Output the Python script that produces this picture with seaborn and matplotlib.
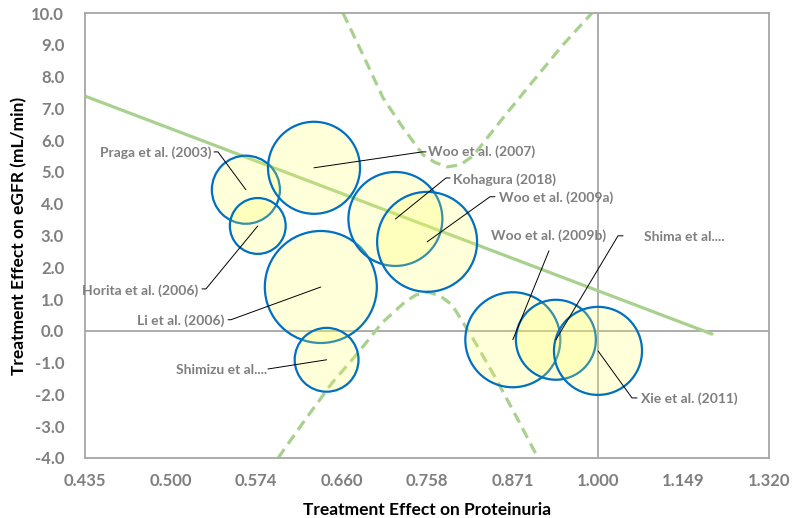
import numpy as np
import pandas as pd
import matplotlib
matplotlib.use("Agg")
import matplotlib.pyplot as plt
import seaborn as sns

# ---------------- data ----------------
studies = ["Praga et al. (2003)", "Horita et al. (2006)", "Woo et al. (2007)",
           "Li et al. (2006)", "Shimizu et al....", "Kohagura (2018)",
           "Woo et al. (2009a)", "Woo et al. (2009b)", "Shima et al....",
           "Xie et al. (2011)"]
proteinuria = [0.565, 0.576, 0.631, 0.638, 0.644, 0.720, 0.758, 0.871, 0.934, 1.000]
egfr = [4.44, 3.30, 5.13, 1.38, -0.91, 3.52, 2.80, -0.28, -0.28, -0.63]
weight = [11.6, 7.8, 21.2, 31.4, 10.2, 22.1, 25.0, 22.6, 16.0, 19.4]

reg_x = [0.435, 1.203]
reg_y = [7.39, -0.10]

upper_x = [0.6613, 0.6832, 0.7057, 0.7289, 0.7529, 0.7677, 0.7829, 0.7995,
           0.8165, 0.8573, 0.8956, 0.9448, 0.9903]
upper_y = [10.0, 8.68, 7.33, 6.39, 5.54, 5.30, 5.16, 5.22, 5.50, 6.70, 7.74, 9.00, 10.0]
lower_x = [0.5953, 0.6219, 0.6497, 0.6777, 0.7045, 0.7312, 0.7445, 0.7591,
           0.7740, 0.7892, 0.8152, 0.8462, 0.8784, 0.9073]
lower_y = [-4.0, -2.80, -1.64, -0.69, 0.25, 0.91, 1.13, 1.22, 1.10, 0.82,
           -0.19, -1.45, -2.80, -4.0]

x_ticks = [2 ** (k / 5) for k in range(-6, 3)]
x_ticklabels = ["0.435", "0.500", "0.574", "0.660", "0.758", "0.871", "1.000", "1.149", "1.320"]
y_ticks = list(range(-4, 11))

# label placement (text pos, ha, leader elbow, tick end)
label_text = [(0.5348, 5.60, "right"), (0.5228, 1.26, "right"), (0.7591, 5.63, "left"),
              (0.5453, 0.31, "right"), (0.5847, -1.23, "right"), (0.7905, 4.75, "left"),
              (0.8517, 4.18, "left"), (0.9229, 3.08, "center"), (1.0774, 2.96, "left"),
              (1.0722, -2.14, "left")]
label_elbow = [(0.5400, 5.63), (0.5296, 1.32), (0.7518, 5.63), (0.5515, 0.35),
               (0.5856, -1.20), (0.7816, 4.81), (0.8394, 4.22), (0.9236, 2.52),
               (1.0330, 2.99), (1.0567, -2.11)]
label_tick = [(0.5366, 5.63), (0.5262, 1.32), (0.7567, 5.63), (0.5489, 0.35),
              (0.5856, -1.20), (0.7867, 4.81), (0.8462, 4.22), (0.9236, 2.52),
              (1.0414, 2.99), (1.0653, -2.11)]

# ---------------- style ----------------
sns.set_style("white")
plt.rcParams["font.family"] = ["Lato", "DejaVu Sans"]

GREEN = "#A9D18E"
GREY_TXT = "#7F7F7F"
GREY_LINE = "#A6A6A6"

fig = plt.figure(figsize=(7.92, 5.18), dpi=100)
ax = fig.add_axes([85 / 792, 60 / 518, 684 / 792, 445 / 518])

ax.set_xscale("log", base=2)
ax.set_xlim(2 ** -1.2, 2 ** 0.4)
ax.set_ylim(-4, 10)

# zero reference lines
ax.axhline(0, color=GREY_LINE, lw=1.3, zorder=1)
ax.axvline(1.0, color=GREY_LINE, lw=1.3, zorder=1)

# regression line and confidence bands
sns.lineplot(x=reg_x, y=reg_y, color=GREEN, lw=2.3, ax=ax, sort=False,
             estimator=None, zorder=2)
sns.lineplot(x=upper_x, y=upper_y, color=GREEN, lw=2.3, ax=ax, sort=False,
             estimator=None, zorder=2, linestyle=(0, (3.4, 2.0)))
sns.lineplot(x=lower_x, y=lower_y, color=GREEN, lw=2.3, ax=ax, sort=False,
             estimator=None, zorder=2, linestyle=(0, (3.4, 2.0)))

# bubbles
df = pd.DataFrame({"x": proteinuria, "y": egfr, "w": weight, "study": studies})
px_per_pt = 100 / 72
smax_r = 56  # px radius for max weight
scale = (2 * smax_r / px_per_pt) ** 2 / max(weight)
sns.scatterplot(data=df, x="x", y="y", size="w", sizes=(0, scale * 40),
                size_norm=(0, 40), legend=False, ax=ax, zorder=3)
pts = ax.collections[-1]
pts.set_facecolor((1.0, 1.0, 0.35, 0.22))
pts.set_edgecolor("#0070C0")
pts.set_linewidth(1.6)

# labels with leader lines
for name, c_x, c_y, (tx, ty, ha), (ex, ey), (kx, ky) in zip(
        studies, proteinuria, egfr, label_text, label_elbow, label_tick):
    ax.plot([c_x, ex, kx], [c_y, ey, ky], color="black", lw=0.7, zorder=4)
    va = "bottom" if ha == "center" else "center"
    tyy = ty - 0.3 if ha == "center" else ty
    ax.text(tx, tyy, name, ha=ha, va=va, color=GREY_TXT, fontsize=10,
            fontweight="bold", zorder=5)

# axes styling
ax.set_xticks(x_ticks)
ax.set_xticklabels(x_ticklabels)
ax.xaxis.set_minor_locator(matplotlib.ticker.NullLocator())
ax.set_yticks(y_ticks)
ax.set_yticklabels([f"{v:.1f}" for v in y_ticks])
for s in ax.spines.values():
    s.set_color(GREY_LINE)
    s.set_linewidth(1.3)
ax.tick_params(axis="both", direction="out", length=4, width=1.1, color=GREY_LINE,
               labelcolor=GREY_TXT, labelsize=12, pad=11)
ax.tick_params(axis="x", pad=7)
for lab in ax.get_xticklabels() + ax.get_yticklabels():
    lab.set_fontweight("bold")

ax.set_xlabel("Treatment Effect on Proteinuria", fontsize=12.5, fontweight="bold",
              color="black", labelpad=9)
ax.set_ylabel("Treatment Effect on eGFR (mL/min)", fontsize=12.5, fontweight="bold",
              color="black", labelpad=3)

fig.savefig("out.png", dpi=100)
